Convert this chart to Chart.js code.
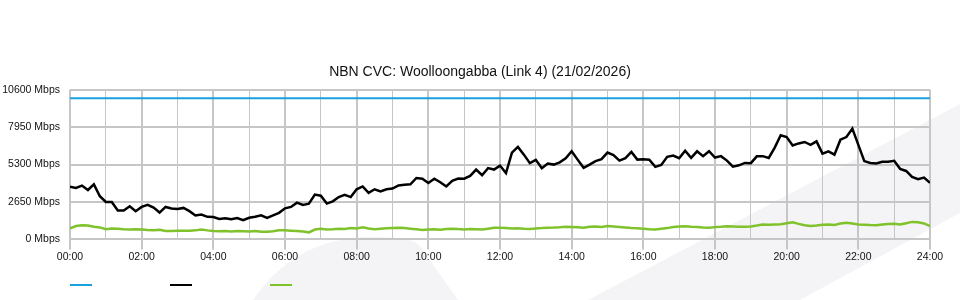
<!DOCTYPE html>
<html>
<head>
<meta charset="utf-8">
<script src="https://cdn.jsdelivr.net/npm/chart.js@4.4.1/dist/chart.umd.min.js"></script>
<style>
  html, body { margin: 0; padding: 0; background: #fff; }
  #wrap { position: relative; width: 960px; height: 300px; }
  #legend { position: absolute; left: 70px; top: 278px; display: flex; }
  #legend .item { position: relative; width: 100px; height: 14px; }
  #legend .swatch { position: absolute; left: 0; top: 6px; width: 22px; height: 2px; }
</style>
</head>
<body>
<div id="wrap">
  <canvas id="myChart" width="960" height="300"></canvas>
  <div id="legend"></div>
</div>
<script>
// 10 minute samples, 00:00 -> 24:00 (Mbps)
const stepMinutes = 10;

const capacity = 10000;

const traffic = [
  3724, 3650, 3816, 3500, 3900, 3060, 2650, 2650, 2050, 2050,
  2350, 2000, 2300, 2450, 2250, 1900, 2300, 2190, 2150, 2230,
  2000, 1700, 1760, 1600, 1580, 1450, 1500, 1430, 1510, 1360,
  1530, 1600, 1700, 1520, 1700, 1880, 2200, 2300, 2600, 2440,
  2530, 3180, 3100, 2540, 2700, 3000, 3150, 3000, 3550, 3750,
  3300, 3550, 3400, 3550, 3600, 3820, 3880, 3900, 4350, 4300,
  4000, 4300, 4050, 3750, 4150, 4310, 4300, 4500, 4950, 4545,
  5050, 4947, 5230, 4700, 6150, 6550, 6007, 5400, 5640, 5050,
  5370, 5300, 5460, 5750, 6250, 5654, 5070, 5300, 5550, 5690,
  6150, 5980, 5583, 5760, 6200, 5654, 5680, 5640, 5137, 5280,
  5850, 5936, 5750, 6280, 5773, 6240, 5900, 6250, 5800, 5900,
  5583, 5150, 5250, 5420, 5400, 5887, 5900, 5773, 6500, 7380,
  7250, 6650, 6800, 6904, 6700, 6947, 6077, 6240, 6007, 7067,
  7250, 7850, 6700, 5550, 5420, 5380, 5500, 5500, 5570, 5000,
  4850, 4430, 4260, 4380, 4007
];

const outbound = [
  780, 950, 1000, 990, 900, 850, 720, 780, 750, 720,
  700, 720, 700, 670, 650, 680, 600, 590, 620, 610,
  620, 640, 700, 640, 590, 580, 590, 560, 600, 580,
  560, 600, 550, 540, 580, 650, 640, 620, 590, 560,
  500, 700, 760, 700, 720, 760, 730, 800, 780, 860,
  780, 720, 760, 790, 810, 820, 800, 760, 720, 670,
  700, 720, 690, 740, 760, 730, 710, 740, 720, 700,
  760, 820, 820, 800, 770, 790, 760, 740, 780, 800,
  830, 840, 860, 900, 880, 860, 820, 900, 920, 880,
  950, 920, 880, 840, 800, 790, 760, 720, 710, 760,
  800, 880, 920, 940, 900, 880, 840, 830, 870, 900,
  940, 920, 890, 900, 920, 980, 1050, 1040, 1060, 1080,
  1150, 1220, 1100, 1000, 950, 980, 1040, 1060, 1020, 1120,
  1180, 1120, 1060, 1040, 1020, 1010, 1060, 1090, 1110, 1050,
  1150, 1240, 1210, 1130, 940
];

const yTicks = [0, 2650, 5300, 7950, 10600];
const title = 'NBN CVC: Woolloongabba (Link 4) (21/02/2026)';

const minutes = traffic.map((v, i) => i * stepMinutes);

const toPoints = arr => arr.map((v, i) => ({ x: minutes[i], y: v }));

const fontFamily = '"Liberation Sans", Arial, sans-serif';

// faint logo in the background
const watermark = {
  id: 'watermark',
  beforeDraw(chart) {
    const c = chart.ctx;
    c.save();
    c.fillStyle = '#f4f4f6';
    c.beginPath();
    c.moveTo(253, 300);
    c.quadraticCurveTo(295, 238, 370, 237);
    c.quadraticCurveTo(412, 236, 420, 246);
    c.lineTo(458, 300);
    c.closePath();
    c.fill();
    c.beginPath();
    c.moveTo(588, 300);
    c.lineTo(960, 104);
    c.lineTo(960, 213);
    c.lineTo(800, 300);
    c.closePath();
    c.fill();
    c.restore();
  }
};

// swatch-only legend under the chart
const htmlLegend = {
  id: 'htmlLegend',
  afterUpdate(chart) {
    const box = document.getElementById('legend');
    box.innerHTML = '';
    chart.data.datasets.forEach(ds => {
      const item = document.createElement('span');
      item.className = 'item';
      const sw = document.createElement('span');
      sw.className = 'swatch';
      sw.style.background = ds.borderColor;
      item.appendChild(sw);
      box.appendChild(item);
    });
  }
};

const ctx = document.getElementById('myChart').getContext('2d');
const myChart = new Chart(ctx, {
  type: 'line',
  data: {
    datasets: [
      {
        label: 'Capacity',
        data: minutes.map(m => ({ x: m, y: capacity })),
        borderColor: '#1ba0de',
        borderWidth: 2,
        pointRadius: 0
      },
      {
        label: 'Traffic',
        data: toPoints(traffic),
        borderColor: '#000000',
        borderWidth: 2.5,
        pointRadius: 0
      },
      {
        label: 'Outbound',
        data: toPoints(outbound),
        borderColor: '#7fc22c',
        borderWidth: 2.5,
        pointRadius: 0
      }
    ]
  },
  options: {
    responsive: false,
    animation: false,
    layout: { padding: { top: 50, right: 0, bottom: 36, left: 0 } },
    plugins: {
      legend: { display: false },
      tooltip: { enabled: false },
      title: {
        display: true,
        text: title,
        color: '#111',
        font: { family: fontFamily, size: 14, weight: 'normal' },
        padding: { top: 14, bottom: 9 }
      }
    },
    scales: {
      x: {
        type: 'linear',
        min: 0,
        max: 1440,
        border: { display: false },
        grid: {
          color: '#c6c6c6',
          lineWidth: c => (c.tick && c.tick.value % 120 === 0) ? 2 : 1,
          tickLength: 10,
          tickColor: c => (c.tick && c.tick.value % 120 === 0) ? '#c6c6c6' : 'rgba(0,0,0,0)'
        },
        ticks: {
          stepSize: 60,
          autoSkip: false,
          maxRotation: 0,
          padding: 1,
          color: '#111',
          font: { family: fontFamily, size: 10.5 },
          callback: v => v % 120 === 0 ? String(v / 60).padStart(2, '0') + ':00' : ''
        }
      },
      y: {
        min: 0,
        max: 10600,
        border: { display: false },
        afterFit: s => { s.width = 70; },
        afterBuildTicks: s => { s.ticks = yTicks.map(v => ({ value: v })); },
        grid: { color: '#c6c6c6', lineWidth: 2, drawTicks: false },
        ticks: {
          padding: 10,
          color: '#111',
          font: { family: fontFamily, size: 10.5 },
          callback: v => v + ' Mbps'
        }
      },
      // empty right-hand gutter so the plot ends at 24:00 while the title stays centred
      gutter: {
        position: 'right',
        min: 0,
        max: 10600,
        border: { display: false },
        grid: { display: false },
        ticks: { display: false },
        afterFit: s => { s.width = 30; }
      }
    }
  },
  plugins: [watermark, htmlLegend]
});
</script>
</body>
</html>
